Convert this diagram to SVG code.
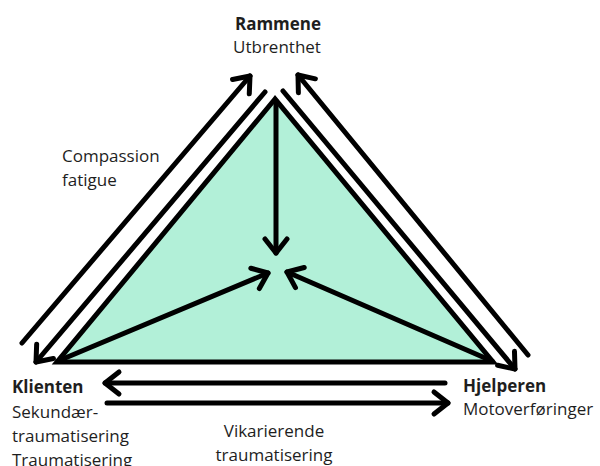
<svg xmlns="http://www.w3.org/2000/svg" width="600" height="466" viewBox="0 0 600 466">
<style>
.t{font-family:"Open Sans","Noto Sans","Liberation Sans",sans-serif;font-size:17px;fill:#1e1e1e}
.b{font-weight:bold}
.c{stroke:#000;stroke-width:5;fill:none;stroke-linecap:round}
</style>
<defs>
<marker id="ah" markerUnits="userSpaceOnUse" orient="auto" overflow="visible" markerWidth="1" markerHeight="1" refX="0" refY="0">
<path d="M-14,-11 L0,0 L-14,11" fill="none" stroke="#000" stroke-width="5" stroke-linecap="round" stroke-linejoin="round"/>
</marker>
</defs>
<rect width="600" height="466" fill="#fff"/>
<g id="triangle">
<polygon points="275,99 57,362 493,362" fill="#b2f0d8" stroke="#000" stroke-width="5" stroke-linejoin="miter"/>
</g>
<g id="connectors">
<line class="c" x1="276" y1="101" x2="276" y2="253" marker-end="url(#ah)"/>
<line class="c" x1="58" y1="361" x2="268" y2="273" marker-end="url(#ah)"/>
<line class="c" x1="492" y1="361" x2="287" y2="272" marker-end="url(#ah)"/>
<line class="c" x1="22" y1="343" x2="250" y2="76" marker-end="url(#ah)"/>
<line class="c" x1="265" y1="92" x2="36" y2="362" marker-end="url(#ah)"/>
<line class="c" x1="528" y1="355" x2="298" y2="75" marker-end="url(#ah)"/>
<line class="c" x1="283" y1="91" x2="515" y2="369" marker-end="url(#ah)"/>
<line class="c" x1="445" y1="383" x2="105" y2="383" marker-end="url(#ah)"/>
<line class="c" x1="107" y1="403" x2="448" y2="403" marker-end="url(#ah)"/>
</g>
<g id="rammene">
<text class="t b" x="278" y="30" text-anchor="middle">Rammene</text>
<text class="t" x="277" y="53" text-anchor="middle">Utbrenthet</text>
</g>
<g id="klienten">
<text class="t b" x="12" y="393">Klienten</text>
<text class="t" x="12" y="418">Sekundær-</text>
<text class="t" x="12" y="442">traumatisering</text>
<text class="t" x="12" y="466">Traumatisering</text>
</g>
<g id="hjelperen">
<text class="t b" x="463" y="392">Hjelperen</text>
<text class="t" x="463" y="415">Motoverføringer</text>
</g>
<g id="label-compassion">
<text class="t" x="62" y="162">Compassion</text>
<text class="t" x="62" y="186">fatigue</text>
</g>
<g id="label-vikarierende">
<text class="t" x="274" y="437" text-anchor="middle">Vikarierende</text>
<text class="t" x="274" y="461" text-anchor="middle">traumatisering</text>
</g>
</svg>
